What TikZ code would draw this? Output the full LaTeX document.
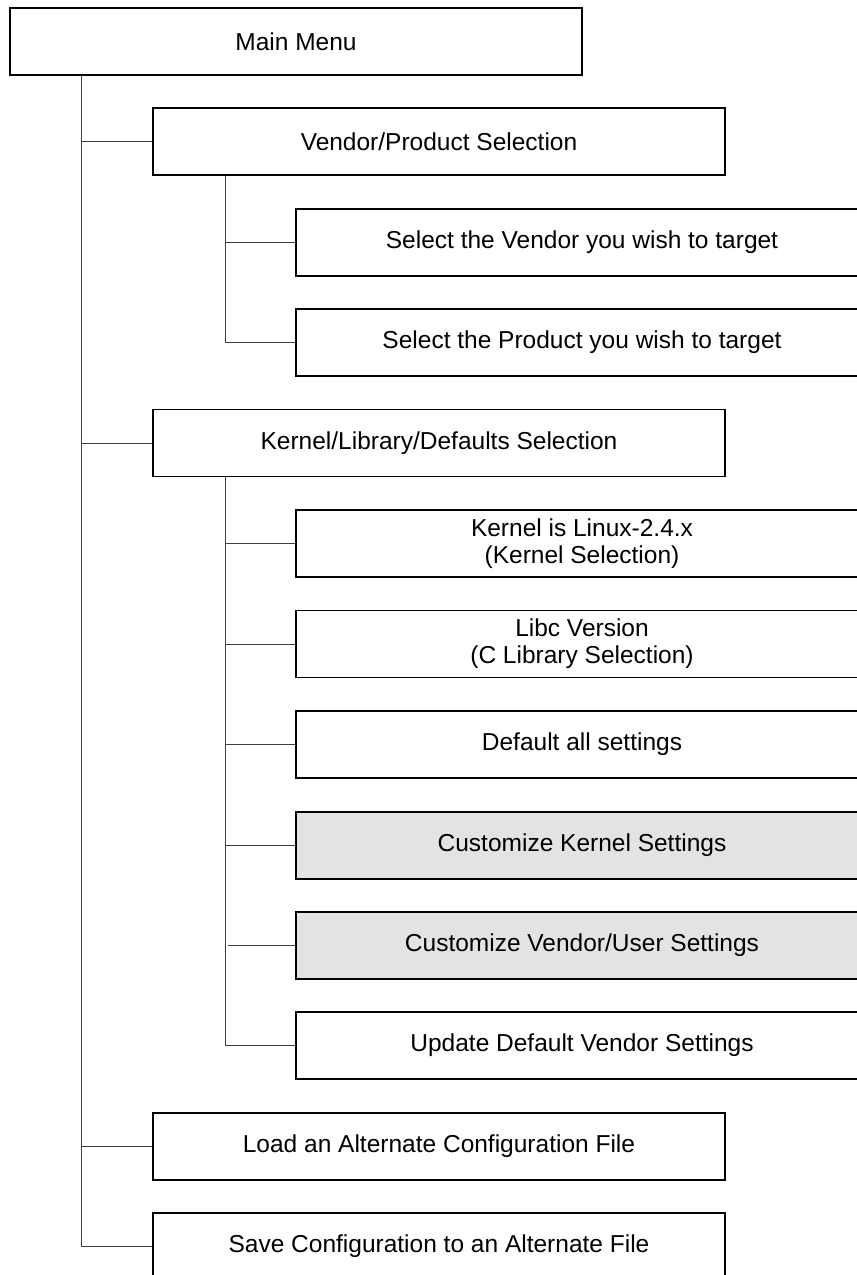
\documentclass[tikz,border=0pt]{standalone}
\usepackage{fontspec}
\setmainfont{Liberation Sans}
\usepackage{tikz}
\usetikzlibrary{calc}
\tikzset{
	menubox/.style={draw=black, line width=1.8pt, fill=white, minimum width=572pt, minimum height=67pt, inner sep=0pt, align=center, font=\fontsize{24.5}{27}\selectfont},
	custbox/.style={menubox, fill=black!11},
	conn/.style={line width=1pt, color=black!75}
}

\begin{document}
\begin{tikzpicture}[x=1pt, y=-1pt]
			%%%%% START %%%%%
			
			\useasboundingbox (0, 0) rectangle (857, 1275);
			\clip (0, 0) rectangle (857, 1275);
			
			\node[menubox] (main) at (296, 41.5) {Main Menu};
			
			\node[menubox] (vendprod) at (439, 141.5) {Vendor/Product Selection};
			\node[menubox] (selvendor) at (582, 242.5) {Select the Vendor you wish to target};
			\node[menubox] (selproduct) at (582, 342.5) {Select the Product you wish to target};
			
			\node[menubox] (kernlib) at (439, 443) {Kernel/Library/Defaults Selection};
			\node[menubox] (kernel) at (582, 543.5) {Kernel is Linux-2.4.x\\(Kernel Selection)};
			\node[menubox] (libc) at (582, 644) {Libc Version\\(C Library Selection)};
			\node[menubox] (defaults) at (582, 744.5) {Default all settings};
			\node[custbox] (custkernel) at (582, 845.5) {Customize Kernel Settings};
			\node[custbox] (custvendor) at (582, 945.5) {Customize Vendor/User Settings};
			\node[menubox] (update) at (582, 1045.5) {Update Default Vendor Settings};
			
			\node[menubox] (loadfile) at (439, 1146.5) {Load an Alternate Configuration File};
			\node[menubox] (savefile) at (439, 1246.5) {Save Configuration to an Alternate File};
			
			% trunk tops
			\coordinate (maintrunk) at ($(main.south west)+(72.5, 0)$);
			\coordinate (vptrunk) at ($(vendprod.south west)+(73, 0)$);
			\coordinate (kltrunk) at ($(kernlib.south west)+(73, 0)$);
			\coordinate (cvstart) at ($(kernlib.south west)+(75.5, 0)$);
			
			% main menu tree
			\draw[conn] (maintrunk) |- (vendprod.west);
			\draw[conn] (maintrunk) |- (kernlib.west);
			\draw[conn] (maintrunk) |- (loadfile.west);
			\draw[conn] (maintrunk) |- (savefile.west);
			
			% vendor/product tree
			\draw[conn] (vptrunk) |- (selvendor.west);
			\draw[conn] (vptrunk) |- (selproduct.west);
			
			% kernel/library tree
			\draw[conn] (kltrunk) |- (kernel.west);
			\draw[conn] (kltrunk) |- (libc.west);
			\draw[conn] (kltrunk) |- (defaults.west);
			\draw[conn] (kltrunk) |- (custkernel.west);
			\draw[conn] (cvstart |- custvendor.west) -- (custvendor.west);
			\draw[conn] (kltrunk) |- (update.west);
			
			%%%%% END %%%%%
		\end{tikzpicture}
\end{document}
